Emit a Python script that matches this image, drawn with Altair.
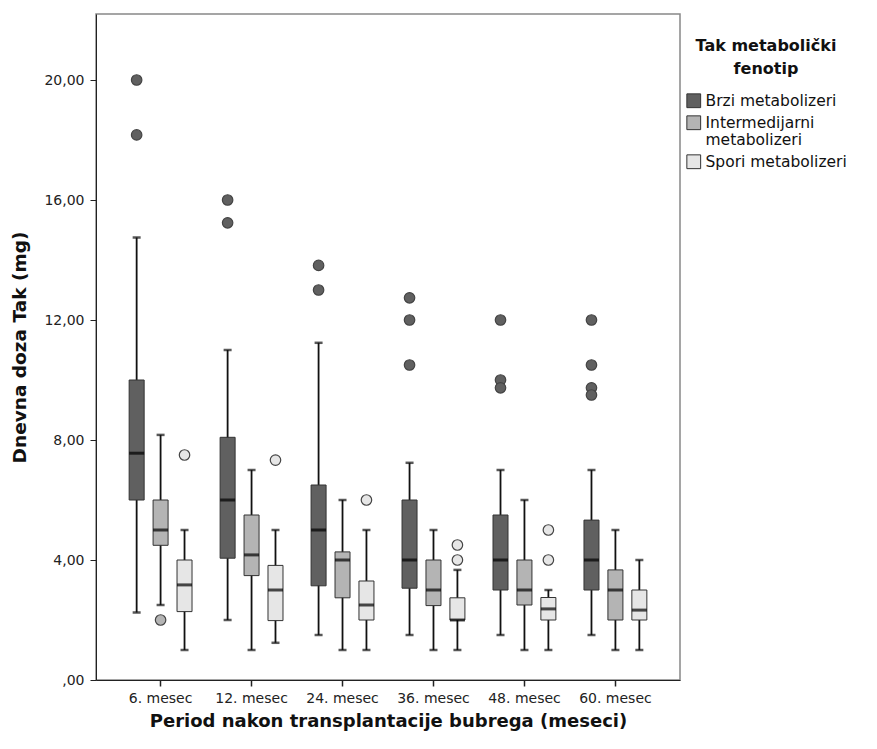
import altair as alt
import pandas as pd

periods = ["6. mesec", "12. mesec", "24. mesec", "36. mesec", "48. mesec", "60. mesec"]
groups = ["Brzi metabolizeri", "Intermedijarni metabolizeri", "Spori metabolizeri"]
group_colors = ["#606060", "#b4b4b4", "#e6e6e6"]

# Brzi metabolizeri
brzi_wlo = [2.25, 2.0, 1.5, 1.5, 1.5, 1.5]
brzi_q1 = [6.0, 4.06, 3.14, 3.06, 3.0, 3.0]
brzi_med = [7.56, 6.0, 5.0, 4.0, 4.0, 4.0]
brzi_q3 = [10.0, 8.09, 6.5, 6.0, 5.5, 5.33]
brzi_whi = [14.75, 11.0, 11.24, 7.24, 7.0, 7.0]
brzi_out = [[20.0, 18.17], [16.0, 15.24], [13.82, 13.0], [12.74, 12.0, 10.5],
            [12.0, 10.0, 9.74], [12.0, 10.5, 9.74, 9.5]]

# Intermedijarni metabolizeri
inter_wlo = [2.5, 1.0, 1.0, 1.0, 1.0, 1.0]
inter_q1 = [4.49, 3.48, 2.74, 2.48, 2.5, 2.0]
inter_med = [5.0, 4.17, 4.0, 3.0, 3.0, 3.0]
inter_q3 = [6.0, 5.5, 4.27, 4.0, 4.0, 3.67]
inter_whi = [8.17, 7.0, 6.0, 5.0, 6.0, 5.0]
inter_out = [[2.0], [], [], [], [], []]

# Spori metabolizeri
spori_wlo = [1.0, 1.24, 1.0, 1.0, 1.0, 1.0]
spori_q1 = [2.28, 1.98, 2.0, 2.0, 2.0, 2.0]
spori_med = [3.17, 3.0, 2.5, 2.0, 2.37, 2.33]
spori_q3 = [4.0, 3.82, 3.3, 2.74, 2.75, 3.0]
spori_whi = [5.0, 5.0, 5.0, 3.67, 3.0, 4.0]
spori_out = [[7.5], [7.33], [6.0], [4.5, 4.0], [5.0, 4.0], []]

y_ticks = [0, 4, 8, 12, 16, 20]

stats = {
    groups[0]: (brzi_wlo, brzi_q1, brzi_med, brzi_q3, brzi_whi, brzi_out),
    groups[1]: (inter_wlo, inter_q1, inter_med, inter_q3, inter_whi, inter_out),
    groups[2]: (spori_wlo, spori_q1, spori_med, spori_q3, spori_whi, spori_out),
}

box_rows, out_rows = [], []
for g in groups:
    wlo, q1, med, q3, whi, outs = stats[g]
    for i, p in enumerate(periods):
        box_rows.append(dict(period=p, group=g, wlo=wlo[i], q1=q1[i], med=med[i],
                             q3=q3[i], whi=whi[i]))
        for v in outs[i]:
            out_rows.append(dict(period=p, group=g, value=v))
box_df = pd.DataFrame(box_rows)
out_df = pd.DataFrame(out_rows)

FONT = "DejaVu Sans"

x_enc = alt.X(
    "period:N", sort=periods,
    scale=alt.Scale(paddingInner=0, paddingOuter=0.21),
    axis=alt.Axis(title="Period nakon transplantacije bubrega (meseci)", labelAngle=0,
                  labelFont=FONT, labelFontSize=14, labelColor="#222", labelPadding=5,
                  titleFont=FONT, titleFontSize=18, titleFontWeight="bold",
                  titleColor="#111", titlePadding=7, tickSize=6, tickColor="#222",
                  domainColor="#222", tickWidth=1.5),
)
xo_enc = alt.XOffset("group:N", sort=groups,
                     scale=alt.Scale(paddingInner=0, paddingOuter=0.4))
y_scale = alt.Scale(domain=[0, 22.2], nice=False, zero=False)
y_axis = alt.Axis(title="Dnevna doza Tak (mg)", values=y_ticks,
                  labelExpr="datum.value == 0 ? ',00' : replace(format(datum.value, '.2f'), '.', ',')",
                  labelFont=FONT, labelFontSize=14, labelColor="#222", labelPadding=6,
                  titleFont=FONT, titleFontSize=18.5, titleFontWeight="bold",
                  titleColor="#111", titlePadding=14, tickSize=6, tickColor="#222",
                  domainColor="#222", grid=False)
fill_scale = alt.Scale(domain=groups, range=group_colors)

base_box = alt.Chart(box_df)

whiskers = base_box.mark_rule(color="#111", strokeWidth=1.8).encode(
    x=x_enc, xOffset=xo_enc,
    y=alt.Y("wlo:Q", scale=y_scale, axis=y_axis), y2="whi:Q",
)
cap_lo = base_box.mark_tick(color="#111", size=8, thickness=2.5).encode(
    x=x_enc, xOffset=xo_enc, y=alt.Y("wlo:Q", scale=y_scale),
)
cap_hi = base_box.mark_tick(color="#111", size=8, thickness=2.5).encode(
    x=x_enc, xOffset=xo_enc, y=alt.Y("whi:Q", scale=y_scale),
)
boxes = base_box.mark_bar(size=15, stroke="#333", strokeWidth=1).encode(
    x=x_enc, xOffset=xo_enc,
    y=alt.Y("q1:Q", scale=y_scale), y2="q3:Q",
    fill=alt.Fill("group:N", scale=fill_scale, sort=groups,
                  legend=alt.Legend(
                      title=["Tak metabolički", "fenotip"], orient="none",
                      legendX=590, legendY=24,
                      titleFont=FONT, titleFontSize=16, titleFontWeight="bold",
                      titleColor="#111", titleAnchor="middle", titleAlign="center",
                      titlePadding=16, titleLineHeight=23,
                      labelFont=FONT, labelFontSize=15.5, labelColor="#111",
                      labelExpr="split(datum.label, ' ')[0] == 'Intermedijarni' ? ['Intermedijarni', 'metabolizeri'] : datum.label",
                      labelOffset=4, labelLimit=300,
                      symbolType="square", symbolSize=190, symbolStrokeColor="#333",
                      symbolStrokeWidth=1, rowPadding=3,
                  )),
)
medians = base_box.mark_tick(color="#000", size=15, thickness=3).encode(
    x=x_enc, xOffset=xo_enc, y=alt.Y("med:Q", scale=y_scale),
)
outliers = alt.Chart(out_df).mark_point(shape="circle", filled=True, size=110,
                                       stroke="#444", strokeWidth=1.2, opacity=1).encode(
    x=x_enc, xOffset=xo_enc, y=alt.Y("value:Q", scale=y_scale),
    fill=alt.Fill("group:N", scale=fill_scale, sort=groups, legend=None),
)

chart = alt.layer(whiskers, cap_lo, cap_hi, boxes, medians, outliers).properties(
    width=584, height=666,
    autosize=alt.AutoSizeParams(type="none"),
    padding={"left": 88, "top": 6, "right": 185, "bottom": 55},
    background="white",
).configure_view(stroke="#888", strokeWidth=1.5)

chart.save("out.html", embed_options={"renderer": "svg", "actions": False})
